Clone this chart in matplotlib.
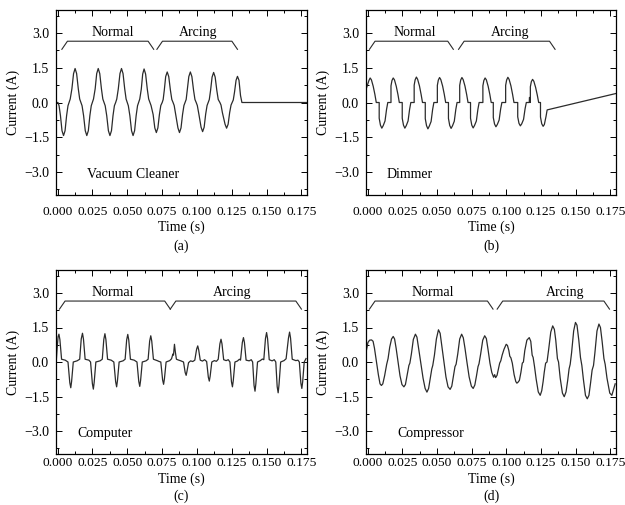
import numpy as np
import matplotlib
matplotlib.use("Agg")
import matplotlib.pyplot as plt
from matplotlib.ticker import MultipleLocator, FuncFormatter

plt.rcParams["font.family"] = ["Liberation Serif", "DejaVu Serif"]
plt.rcParams["font.size"] = 10

# ---- waveform data (time in ms, current in A) ----
vac_t = [-1.0, 0.3, 1.1, 2.1, 3.2, 4.3, 5.4, 6.5, 7.5, 8.3, 9.1, 10.3, 11.5, 12.6, 13.7, 14.9, 15.9,
         16.8, 17.6, 18.7, 19.9, 21.0, 22.1, 23.2, 24.2, 25.0, 25.8, 27.0, 28.1, 29.2, 30.3, 31.5,
         32.5, 33.4, 34.2, 35.3, 36.5, 37.6, 38.7, 39.8, 40.8, 41.7, 42.5, 43.6, 44.8, 45.9, 47.0,
         48.2, 49.2, 50.0, 50.8, 51.9, 53.1, 54.2, 55.3, 56.4, 57.4, 58.2, 59.0, 60.1, 61.1, 62.1,
         63.2, 64.4, 65.4, 66.3, 67.1, 68.6, 69.8, 70.9, 72.0, 73.1, 74.1, 75.1, 75.8, 76.6, 77.6,
         78.7, 79.8, 81.0, 82.0, 82.9, 83.7, 84.8, 86.4, 87.5, 88.6, 89.7, 90.7, 91.5, 92.3, 93.1,
         94.2, 95.3, 96.4, 97.6, 98.6, 99.5, 100.3, 101.4, 103.0, 104.1, 105.2, 106.3, 107.3, 108.1,
         108.9, 109.8, 110.9, 112.0, 113.1, 114.3, 115.3, 116.5, 117.3, 118.3, 120.2, 121.3, 122.4,
         123.5, 124.5, 125.3, 126.1, 127.0, 128.1, 129.1, 130.2, 131.3, 132.3, 179.0]
vac_i = [0.0, 0.0, -0.14, -0.57, -1.22, -1.43, -1.22, -0.57, -0.14, 0.0, 0.15, 0.59, 1.25, 1.47, 1.25, 0.59, 0.15,
         0.0, -0.14, -0.57, -1.22, -1.43, -1.22, -0.57, -0.14, 0.0, 0.15, 0.59, 1.25, 1.47, 1.25, 0.59,
         0.15, 0.0, -0.14, -0.57, -1.22, -1.43, -1.22, -0.57, -0.14, 0.0, 0.15, 0.59, 1.25, 1.47, 1.25,
         0.59, 0.15, 0.0, -0.14, -0.57, -1.22, -1.43, -1.22, -0.57, -0.14, 0.0, 0.15, 0.58, 1.23, 1.45,
         1.23, 0.58, 0.15, 0.0, -0.13, -0.52, -1.10, -1.30, -1.10, -0.52, -0.13, 0.0, 0.13, 0.53, 1.12,
         1.32, 1.12, 0.53, 0.13, 0.0, -0.13, -0.52, -1.10, -1.30, -1.10, -0.52, -0.13, 0.0, 0.13, 0.53,
         1.12, 1.32, 1.12, 0.53, 0.13, 0.0, -0.13, -0.50, -1.07, -1.26, -1.07, -0.50, -0.13, 0.0,
         0.13, 0.52, 1.10, 1.30, 1.10, 0.52, 0.13, 0.0, -0.11, -0.44, -0.94, -1.11, -0.94,
         -0.44, -0.11, 0.0, 0.11, 0.45, 0.96, 1.13, 0.96, 0.30, 0.0, 0.0]

dim_t = [-0.9, 1.0, 1.9, 2.8, 4.1, 5.3, 6.3, 8.4, 8.4, 9.3, 10.3, 11.3, 12.6, 13.7, 14.6,
         16.9, 16.9, 17.6, 18.5, 19.4, 20.7, 21.9, 22.9, 25.0, 25.0, 25.9, 26.9, 27.9, 29.2, 30.3, 31.2,
         33.6, 33.6, 34.3, 35.2, 36.1, 37.4, 38.6, 39.6, 41.6, 41.6, 42.5, 43.5, 44.5, 45.8, 46.9, 47.8,
         50.3, 50.3, 51.0, 51.9, 52.8, 54.1, 55.3, 56.3, 58.3, 58.3, 59.2, 60.2, 61.2, 62.5, 63.6, 64.5,
         66.4, 66.4, 67.1, 68.0, 68.9, 70.2, 71.4, 72.4, 74.2, 74.2, 75.1, 76.1, 77.1, 78.4, 79.5, 80.4,
         83.1, 83.1, 83.8, 84.7, 85.6, 86.9, 88.1, 89.1, 90.6, 90.6, 91.5, 92.5, 93.5, 94.8, 95.9, 96.8,
         99.5, 99.5, 100.2, 101.1, 102.0, 103.3, 104.5, 105.5, 108.2, 108.2, 109.1, 110.1, 111.1, 112.4,
         113.5, 114.4, 116.5, 116.7, 116.9, 117.3, 117.3, 118.0, 118.9, 119.8, 121.1, 122.3, 123.3,
         124.6, 124.6, 125.5, 126.5, 127.4, 128.6, 129.4, 179.0]
dim_i = [0.60, 0.95, 1.06, 0.98, 0.70, 0.35, 0.0, 0.0, -0.68, -0.98, -1.11, -1.00, -0.80, -0.30, 0.0,
         0.0, 0.72, 0.95, 1.06, 0.98, 0.70, 0.35, 0.0, 0.0, -0.68, -0.98, -1.11, -1.00, -0.80, -0.30, 0.0,
         0.0, 0.75, 0.98, 1.10, 1.00, 0.72, 0.35, 0.0, 0.0, -0.70, -1.00, -1.14, -1.02, -0.82, -0.30, 0.0,
         0.0, 0.74, 0.97, 1.08, 0.99, 0.71, 0.35, 0.0, 0.0, -0.69, -0.99, -1.12, -1.01, -0.81, -0.30, 0.0,
         0.0, 0.74, 0.97, 1.08, 0.99, 0.71, 0.35, 0.0, 0.0, -0.68, -0.98, -1.10, -0.99, -0.80, -0.30, 0.0,
         0.0, 0.72, 0.95, 1.06, 0.98, 0.70, 0.35, 0.0, 0.0, -0.65, -0.93, -1.05, -0.95, -0.76, -0.28, 0.0,
         0.0, 0.74, 0.97, 1.09, 1.00, 0.72, 0.35, 0.0, 0.0, -0.62, -0.90, -1.01, -0.92, -0.73,
         -0.27, 0.0, 0.0, 0.22, 0.02, 0.0, 0.68, 0.90, 1.00, 0.92, 0.65, 0.32, 0.0,
         0.0, -0.63, -0.92, -1.03, -0.95, -0.60, -0.32, 0.39]

comp_t = [-0.9, -0.3, 0.4, 1.0, 1.7, 2.9, 5.5, 7.5, 8.8, 9.5, 10.1, 11.3, 14.0, 15.9, 17.0, 17.9, 18.6,
          19.8, 22.5, 23.7, 25.0, 25.7, 26.3, 27.5, 30.5, 32.1, 33.2, 34.0, 34.7, 35.9, 38.5, 40.4,
          41.7, 42.4, 43.0, 44.2, 47.0, 48.5, 49.6, 50.4, 51.1, 52.3, 55.0, 57.0, 58.3, 59.0, 59.6,
          60.8, 63.5, 65.0, 66.1, 66.9, 67.6, 68.8, 71.5, 73.0, 74.1, 75.4, 76.1, 76.7, 77.9, 80.5,
          81.8, 82.8, 83.2, 83.9, 84.5, 85.3, 87.0, 88.5, 90.4, 91.6, 92.3, 92.9, 94.0, 95.5, 97.0,
          98.5, 99.8, 100.6, 101.3, 102.4, 104.0, 105.5, 107.0, 108.2, 108.9, 109.5, 110.7, 112.5,
          114.0, 115.3, 116.5, 117.3, 118.0, 119.2, 121.0, 122.5, 123.7, 124.8, 125.5, 126.1, 127.3,
          129.0, 130.5, 131.3, 132.6, 133.4, 134.1, 135.3, 137.5, 139.0, 140.0, 141.0, 141.7, 142.3,
          143.5, 145.5, 147.0, 148.0, 149.2, 150.0, 150.7, 151.9, 154.0, 155.5, 156.6, 157.6, 158.3,
          158.9, 160.1, 162.5, 164.0, 165.7, 166.5, 167.2, 168.4, 171.0, 172.5, 173.5, 174.6, 175.3,
          175.9, 177.0, 178.3]
comp_i = [0.05, 0.60, 1.10, 1.21, 0.97, 0.12, 0.08, 0.0, -0.90, -1.12, -0.84, 0.0, 0.05, 0.12, 1.00, 1.25, 1.00,
          0.12, 0.08, 0.0, -0.94, -1.18, -0.88, 0.0, 0.05, 0.12, 0.98, 1.23, 0.98, 0.12, 0.08, 0.0,
          -0.86, -1.08, -0.81, 0.0, 0.05, 0.12, 0.96, 1.20, 0.96, 0.12, 0.08, 0.0, -0.85, -1.06, -0.80,
          0.0, 0.05, 0.12, 0.91, 1.14, 0.91, 0.12, 0.06, 0.02, 0.0, -0.78, -0.97, -0.73, 0.0, 0.06,
          0.14, 0.35, 0.30, 0.77, 0.45, 0.12, 0.08, 0.05, 0.0, -0.46, -0.58, -0.40, -0.03, 0.05, 0.02,
          0.08, 0.56, 0.70, 0.52, 0.08, 0.04, 0.10, 0.02, -0.66, -0.83, -0.62, 0.0, 0.06,
          0.03, 0.12, 0.79, 0.99, 0.79, 0.10, 0.06, 0.10, 0.0, -0.86, -1.08, -0.81, 0.0,
          0.04, 0.12, 0.08, 0.85, 1.06, 0.85, 0.08, 0.05, 0.10, 0.0, -1.02, -1.27, -0.95,
          0.0, 0.06, 0.13, 0.10, 1.02, 1.28, 1.02, 0.10, 0.05, 0.10, 0.0, -1.07, -1.34,
          -1.00, 0.0, 0.06, 0.14, 1.04, 1.30, 1.04, 0.12, 0.06, 0.08, 0.0, -0.92, -1.15,
          -0.86, 0.0, 0.15]

cmpr_t = [-0.9, 0.3, 1.5, 2.9, 4.0, 5.0, 6.5, 7.8, 9.0, 10.0, 11.0, 12.3, 13.2, 13.8, 14.8, 16.0, 17.3,
          18.5, 19.5, 20.6, 22.0, 23.4, 24.8, 26.2, 27.3, 28.6, 29.8, 30.5, 31.6, 33.0, 34.5, 35.6,
          36.8, 38.3, 40.0, 41.5, 42.8, 44.0, 45.2, 46.3, 47.0, 48.2, 49.6, 51.1, 52.3, 53.5, 55.0,
          56.5, 58.0, 59.5, 60.7, 61.9, 63.0, 63.8, 65.0, 66.4, 67.8, 69.0, 70.2, 71.6, 73.2, 74.8,
          76.1, 77.3, 78.5, 79.6, 80.3, 81.5, 83.0, 84.4, 85.6, 86.8, 88.2, 89.5, 90.8, 91.6, 92.3,
          93.3, 94.3, 95.2, 96.0, 97.0, 98.3, 99.9, 100.8, 101.8, 102.5, 103.3, 104.3, 105.6, 106.8,
          107.6, 108.4, 109.4, 110.5, 111.5, 112.3, 113.3, 114.8, 116.5, 117.6, 118.6, 119.3, 120.3,
          121.5, 123.0, 124.4, 125.5, 126.5, 127.3, 128.3, 129.3, 130.5, 132.0, 133.4, 134.6, 135.6,
          136.8, 137.6, 138.8, 140.4, 141.7, 143.0, 144.2, 145.2, 146.0, 147.0, 148.5, 149.8, 150.9,
          152.2, 153.4, 154.4, 155.5, 157.0, 158.3, 159.5, 160.7, 161.8, 162.8, 163.8, 165.3, 166.7,
          167.8, 169.0, 170.3, 171.2, 172.5, 174.5, 176.0, 178.4]
cmpr_i = [0.48, 0.85, 0.95, 0.96, 0.90, 0.60, 0.0, -0.55, -0.95, -1.02, -0.95, -0.60, -0.30, -0.10, 0.15, 0.65, 1.00,
          1.11, 1.00, 0.60, 0.0, -0.60, -0.98, -1.08, -0.98, -0.55, -0.15, -0.05, 0.35, 0.98, 1.21, 1.08,
          0.60, 0.0, -0.70, -1.15, -1.31, -1.15, -0.70, -0.30, -0.15, 0.30, 1.00, 1.40, 1.25, 0.70, 0.0,
          -0.65, -1.08, -1.19, -1.05, -0.60, -0.20, -0.10, 0.35, 1.00, 1.21, 1.05, 0.60, 0.0, -0.65, -1.05,
          -1.15, -1.00, -0.60, -0.20, -0.08, 0.35, 0.95, 1.14, 1.02, 0.55, -0.05, -0.45, -0.66, -0.55, -0.68,
          -0.58, -0.30, -0.05, 0.05, 0.30, 0.55, 0.77, 0.72, 0.50, 0.25, 0.18, -0.05, -0.55, -0.85,
          -0.92, -0.88, -0.80, -0.45, -0.05, 0.0, 0.50, 0.95, 1.06, 0.90, 0.30, 0.20, -0.20,
          -0.75, -1.30, -1.45, -1.25, -0.85, -0.45, -0.05, 0.0, 0.55, 1.30, 1.57, 1.42, 0.95,
          0.15, 0.0, -0.70, -1.35, -1.51, -1.30, -0.80, -0.30, -0.10, 0.40, 1.35, 1.72, 1.60,
          0.95, 0.20, -0.15, -0.75, -1.45, -1.60, -1.45, -0.90, -0.35, -0.15, 0.40, 1.35, 1.65,
          1.50, 0.90, 0.15, -0.10, -0.70, -1.35, -1.45, -0.95]

# panel names and the time spans of the "Normal" / "Arcing" brackets (ms)
names = ["Vacuum Cleaner", "Dimmer", "Computer", "Compressor"]
letters = ["(a)", "(b)", "(c)", "(d)"]
normal_span = [(3.1, 69.0), (1.4, 61.8), (1.4, 80.9), (1.4, 90.4)]
arcing_span = [(71.3, 129.1), (65.6, 135.1), (80.9, 175.0), (93.4, 174.3)]
waves = [(vac_t, vac_i), (dim_t, dim_i), (comp_t, comp_i), (cmpr_t, cmpr_i)]

# layout in pixels: axes box, tick pad (pt), "Time (s)" and letter offsets below the axes (px)
W, H = 625, 505
boxes = [(56, 10, 307, 195), (366, 10, 616, 195), (56, 270, 307, 454), (366, 270, 616, 454)]
xtick_pad = [8.0, 8.0, 2.5, 2.5]
xlabel_dy = [32.5, 32.5, 25.5, 25.5]
letter_dy = [51.5, 51.5, 42.5, 42.5]
normal_text_x = [40, 34, 40, 47]
arcing_text_x = [100.6, 103, 125.5, 142.4]
name_x = [21.4, 13.8, 14.3, 21.4]

line_col = "#2b2b2b"
minus = FuncFormatter(lambda v, p: ("%.1f" % v).replace("-", "\u2212"))
tfmt = FuncFormatter(lambda v, p: ("%.3f" % v).replace("-", "\u2212"))

fig = plt.figure(figsize=(6.25, 5.05), dpi=100)


def bracket(ax, t0, t1, leg=4.0, lo=2.3, hi=2.65):
    xs = np.array([t0, t0 + leg, t1 - leg, t1]) / 1000
    ax.plot(xs, [lo, hi, hi, lo], color=line_col, lw=0.8)


for k in range(4):
    x0, y0, x1, y1 = boxes[k]
    h = y1 - y0
    ax = fig.add_axes([x0 / W, 1 - y1 / H, (x1 - x0) / W, h / H])
    t, cur = waves[k]
    ax.plot(np.array(t) / 1000, cur, color=line_col, lw=0.9)

    bracket(ax, *normal_span[k])
    bracket(ax, *arcing_span[k])
    ax.text(normal_text_x[k] / 1000, 3.04, "Normal", ha="center", va="center")
    ax.text(arcing_text_x[k] / 1000, 3.04, "Arcing", ha="center", va="center")
    ax.text(name_x[k] / 1000, -3.1, names[k], ha="left", va="center")

    ax.set_xlim(-0.0011, 0.179)
    ax.set_ylim(-4, 4)
    ax.xaxis.set_major_locator(MultipleLocator(0.025))
    ax.xaxis.set_minor_locator(MultipleLocator(0.0125))
    ax.yaxis.set_major_locator(MultipleLocator(1.5))
    ax.yaxis.set_minor_locator(MultipleLocator(0.75))
    ax.xaxis.set_major_formatter(tfmt)
    ax.yaxis.set_major_formatter(minus)
    ax.tick_params(which="both", direction="in", top=True, right=True, width=0.7)
    ax.tick_params(which="major", length=4)
    ax.tick_params(which="minor", length=2)
    ax.tick_params(axis="x", which="major", pad=xtick_pad[k], labelsize=9.7)
    ax.tick_params(axis="y", which="major", pad=5)
    for s in ax.spines.values():
        s.set_linewidth(0.9)
    ax.set_xlabel("Time (s)", va="center")
    ax.xaxis.set_label_coords(0.5, -xlabel_dy[k] / h)
    ax.set_ylabel("Current (A)", labelpad=3)
    ax.text(0.5, -letter_dy[k] / h, letters[k], transform=ax.transAxes, ha="center", va="center")

fig.savefig("out.png", dpi=100)
